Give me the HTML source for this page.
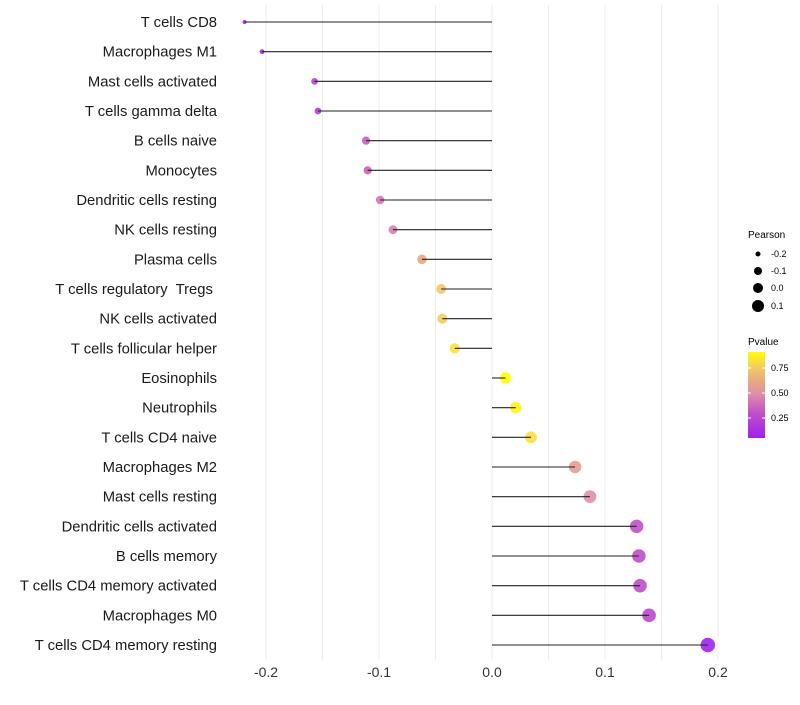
<!DOCTYPE html>
<html><head><meta charset="utf-8"><style>
body{margin:0;background:#fff;font-family:"Liberation Sans",sans-serif}
text{white-space:pre}
</style></head><body>
<svg id="chart" width="800" height="700" xmlns="http://www.w3.org/2000/svg">
<defs><linearGradient id="pg" x1="0" y1="1" x2="0" y2="0">
<stop offset="0" stop-color="#A020F0"/><stop offset="0.29" stop-color="#C050C8"/><stop offset="0.52" stop-color="#E090A8"/><stop offset="0.66" stop-color="#E8A880"/><stop offset="0.81" stop-color="#F2C868"/><stop offset="1" stop-color="#FFFF00"/>
</linearGradient></defs>
<g id="grid"></g>
<g id="marks"></g>
<g id="labels"></g>
<g id="xt"></g>
<g font-size="9" fill="#000">
<text x="748" y="238" font-size="10">Pearson</text>
<circle cx="758" cy="254" r="2.5"/><text x="771" y="257">-0.2</text>
<circle cx="758" cy="271" r="4"/><text x="771" y="274">-0.1</text>
<circle cx="758" cy="288" r="5"/><text x="771" y="291">0.0</text>
<circle cx="758" cy="306" r="6"/><text x="771" y="309">0.1</text>
</g>
<g font-size="9">
<text x="748" y="345" font-size="10">Pvalue</text>
<rect x="748" y="352" width="17" height="86" fill="url(#pg)"/>
<line x1="748" x2="751" y1="368" y2="368" stroke="#fff"/><line x1="762" x2="765" y1="368" y2="368" stroke="#fff"/>
<line x1="748" x2="751" y1="393" y2="393" stroke="#fff"/><line x1="762" x2="765" y1="393" y2="393" stroke="#fff"/>
<line x1="748" x2="751" y1="418" y2="418" stroke="#fff"/><line x1="762" x2="765" y1="418" y2="418" stroke="#fff"/>
<text x="771" y="371">0.75</text><text x="771" y="396">0.50</text><text x="771" y="421">0.25</text>
</g>
</svg>
<script>
const categories=["T cells CD8","Macrophages M1","Mast cells activated","T cells gamma delta","B cells naive","Monocytes","Dendritic cells resting","NK cells resting","Plasma cells","T cells regulatory  Tregs ","NK cells activated","T cells follicular helper","Eosinophils","Neutrophils","T cells CD4 naive","Macrophages M2","Mast cells resting","Dendritic cells activated","B cells memory","T cells CD4 memory activated","Macrophages M0","T cells CD4 memory resting"];
const pearson=[-0.219,-0.2035,-0.157,-0.154,-0.1115,-0.11,-0.099,-0.0876,-0.062,-0.045,-0.044,-0.033,0.012,0.021,0.0345,0.0735,0.0867,0.128,0.130,0.131,0.139,0.191];
const pvalue=[0.06,0.08,0.22,0.2,0.34,0.36,0.42,0.45,0.62,0.75,0.76,0.83,0.92,0.88,0.82,0.57,0.5,0.3,0.29,0.29,0.26,0.06];
const xticks=[-0.2,-0.1,0.0,0.1,0.2];
const NS="http://www.w3.org/2000/svg";
const X=v=>492+v*1130;
const Y=i=>22+i*(623/21);
const R=v=>Math.sqrt(Math.max(2,30.2+119.5*v));
const stops=[[0.05,"#A020F0"],[0.3,"#C050C8"],[0.5,"#E090A8"],[0.62,"#E8A880"],[0.75,"#F2C868"],[0.91,"#FFFF00"]];
function mix(a,b,t){const p=s=>[1,3,5].map(k=>parseInt(s.substr(k,2),16));const A=p(a),B=p(b);return "rgb("+A.map((x,k)=>Math.round(x+(B[k]-x)*t)).join(",")+")";}
function col(p){p=Math.max(0.05,Math.min(0.91,p));for(let k=0;k<stops.length-1;k++){if(p<=stops[k+1][0])return mix(stops[k][1],stops[k+1][1],(p-stops[k][0])/(stops[k+1][0]-stops[k][0]));}return stops[stops.length-1][1];}
function el(tag,attrs,parent){const e=document.createElementNS(NS,tag);for(const k in attrs)e.setAttribute(k,attrs[k]);parent.appendChild(e);return e;}
const grid=document.getElementById('grid'),marks=document.getElementById('marks'),labels=document.getElementById('labels'),xt=document.getElementById('xt');
for(let v=-0.2;v<=0.2001;v+=0.05){const g=el('line',{x1:X(v),x2:X(v),y1:5,y2:660,stroke:'#ececec','stroke-width':1},grid);

}
xticks.forEach(v=>{const t=el('text',{x:X(v),y:677,'text-anchor':'middle','font-size':14,fill:'#333'},xt);t.textContent=v.toFixed(1);

});
categories.forEach((c,i)=>{const y=Y(i);
const p=el('circle',{cx:X(pearson[i]),cy:y,r:R(pearson[i]),fill:col(pvalue[i]),'fill-opacity':0.9},marks);


const l=el('line',{x1:X(0),x2:X(pearson[i]),y1:y,y2:y,stroke:'#222','stroke-width':1.1},marks);


const t=el('text',{x:217,y:y+5,'text-anchor':'end','font-size':14.8,fill:'#1a1a1a'},labels);t.textContent=c;

});
</script>
</body></html>
